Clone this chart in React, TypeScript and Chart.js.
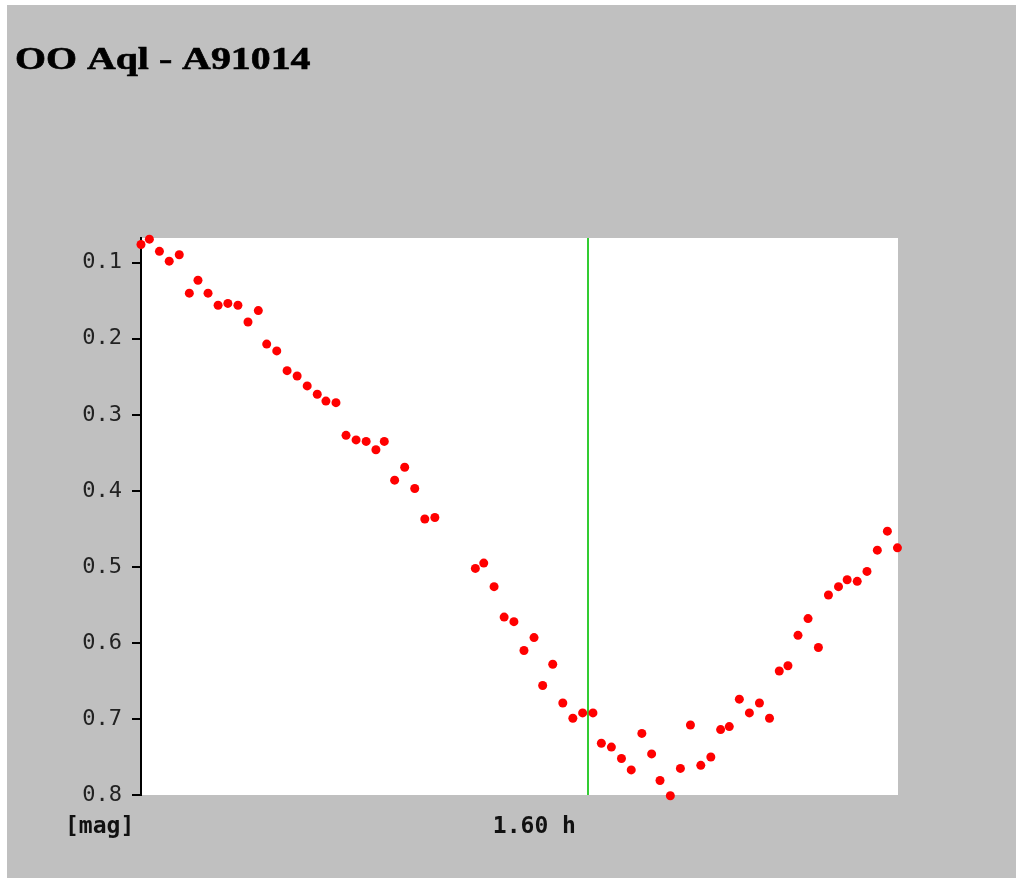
import React, { useEffect, useRef } from "react";
import { Chart, registerables } from "chart.js";

Chart.register(...registerables);

const TITLE = "OO Aql - A91014";
const Y_UNIT_LABEL = "[mag]";
const MARKER_LABEL = "1.60 h";
const MARKER_TIME = 1.6;

const TIME_MIN = 0;
const TIME_MAX = 2.71;
const MAG_MIN = 0.0675;
const MAG_MAX = 0.8;
const MAG_TICKS = [0.1, 0.2, 0.3, 0.4, 0.5, 0.6, 0.7, 0.8];

const timeHours = [
  0.0, 0.03, 0.066, 0.101, 0.137, 0.173, 0.204, 0.24, 0.276, 0.311,
  0.347, 0.383, 0.42, 0.45, 0.486, 0.523, 0.559, 0.595, 0.631, 0.662,
  0.698, 0.734, 0.77, 0.806, 0.841, 0.871, 0.908, 0.944, 0.98, 1.016,
  1.052, 1.197, 1.227, 1.264, 1.3, 1.335, 1.371, 1.407, 1.438, 1.474,
  1.51, 1.546, 1.581, 1.618, 1.648, 1.684, 1.72, 1.755, 1.793, 1.828,
  1.858, 1.895, 1.931, 1.967, 2.004, 2.04, 2.075, 2.106, 2.142, 2.178,
  2.214, 2.25, 2.285, 2.316, 2.352, 2.388, 2.425, 2.461, 2.497, 2.528,
  2.564, 2.599, 2.636, 2.672, 2.708,
];

const magnitudes = [
  0.076, 0.069, 0.085, 0.098, 0.0895, 0.14, 0.123, 0.14, 0.156, 0.1535,
  0.156, 0.178, 0.163, 0.207, 0.216, 0.242, 0.249, 0.262, 0.273, 0.282,
  0.284, 0.327, 0.333, 0.335, 0.346, 0.335, 0.386, 0.369, 0.397, 0.437,
  0.435, 0.502, 0.495, 0.526, 0.566, 0.572, 0.61, 0.593, 0.656, 0.628,
  0.679, 0.699, 0.692, 0.692, 0.732, 0.737, 0.752, 0.767, 0.719, 0.746,
  0.781, 0.801, 0.765, 0.708, 0.761, 0.75, 0.714, 0.71, 0.674, 0.692,
  0.679, 0.699, 0.637, 0.63, 0.59, 0.568, 0.606, 0.537, 0.526, 0.517,
  0.519, 0.506, 0.478, 0.453, 0.475,
];

const BG = "#c0c0c0";
const CANVAS_W = 1009;
const CANVAS_H = 873;

const decorPlugin = {
  id: "decor",
  beforeDraw(chart: any) {
    const { ctx, chartArea } = chart;
    ctx.save();
    ctx.fillStyle = BG;
    ctx.fillRect(0, 0, chart.width, chart.height);
    ctx.fillStyle = "#ffffff";
    ctx.fillRect(
      chartArea.left,
      chartArea.top,
      chartArea.right - chartArea.left,
      chartArea.bottom - chartArea.top
    );
    ctx.restore();
  },
  beforeDatasetsDraw(chart: any) {
    const { ctx, chartArea, scales } = chart;
    const x = Math.round(scales.x.getPixelForValue(MARKER_TIME));
    ctx.save();
    ctx.strokeStyle = "#33cc33";
    ctx.lineWidth = 2;
    ctx.beginPath();
    ctx.moveTo(x, chartArea.top);
    ctx.lineTo(x, chartArea.bottom);
    ctx.stroke();
    ctx.restore();
  },
  afterDraw(chart: any) {
    const { ctx, chartArea, scales } = chart;
    const x = scales.x.getPixelForValue(MARKER_TIME);
    ctx.save();
    // title
    ctx.fillStyle = "#000000";
    ctx.textBaseline = "alphabetic";
    ctx.textAlign = "left";
    ctx.save();
    ctx.translate(8, 64);
    ctx.scale(1.245, 1);
    ctx.font = "bold 32px 'Liberation Serif', 'Times New Roman', serif";
    ctx.strokeStyle = "#000000";
    ctx.lineWidth = 0.6;
    ctx.fillText(TITLE, 0, 0);
    ctx.strokeText(TITLE, 0, 0);
    ctx.restore();
    // axis captions
    ctx.font = "bold 23px 'DejaVu Sans Mono', monospace";
    ctx.fillStyle = "#111111";
    ctx.textAlign = "left";
    ctx.fillText(Y_UNIT_LABEL, 58, chartArea.bottom + 38);
    ctx.textAlign = "right";
    ctx.fillText(MARKER_LABEL, x - 12, chartArea.bottom + 38);
    ctx.restore();
  },
};

export default function App() {
  const canvasRef = useRef<HTMLCanvasElement | null>(null);

  useEffect(() => {
    const canvas = canvasRef.current;
    if (!canvas) return;
    const chart = new Chart(canvas, {
      type: "scatter",
      data: {
        datasets: [
          {
            data: timeHours.map((t, i) => ({ x: t, y: magnitudes[i] })),
            backgroundColor: "#ff0000",
            borderWidth: 0,
            pointRadius: 4.5,
            pointHoverRadius: 4.5,
            showLine: false,
            clip: false as any,
          },
        ],
      },
      options: {
        animation: false,
        responsive: false,
        devicePixelRatio: 1,
        events: [],
        layout: { padding: { left: 0, top: 233, right: 118, bottom: 83 } },
        plugins: {
          legend: { display: false },
          tooltip: { enabled: false },
          title: { display: false },
        },
        scales: {
          x: {
            type: "linear",
            display: false,
            min: TIME_MIN,
            max: TIME_MAX,
          },
          y: {
            type: "linear",
            reverse: true,
            min: MAG_MIN,
            max: MAG_MAX,
            afterFit: (s: any) => {
              s.width = 134;
            },
            afterBuildTicks: (s: any) => {
              s.ticks = MAG_TICKS.map((v) => ({ value: v }));
            },
            ticks: {
              callback: (v: any) => Number(v).toFixed(1),
              color: "#222222",
              font: { family: "'DejaVu Sans Mono', monospace", size: 22 },
              padding: 10,
            },
            grid: {
              drawOnChartArea: false,
              drawTicks: true,
              tickLength: 9,
              color: "#000000",
              lineWidth: 2,
            },
            border: { display: true, color: "#000000", width: 2 },
          },
        },
      },
      plugins: [decorPlugin],
    });
    return () => chart.destroy();
  }, []);

  return (
    <div
      style={{
        position: "fixed",
        left: 7,
        top: 5,
        width: CANVAS_W,
        height: CANVAS_H,
        background: BG,
      }}
    >
      <canvas
        ref={canvasRef}
        width={CANVAS_W}
        height={CANVAS_H}
        style={{ width: CANVAS_W, height: CANVAS_H, display: "block" }}
      />
    </div>
  );
}
